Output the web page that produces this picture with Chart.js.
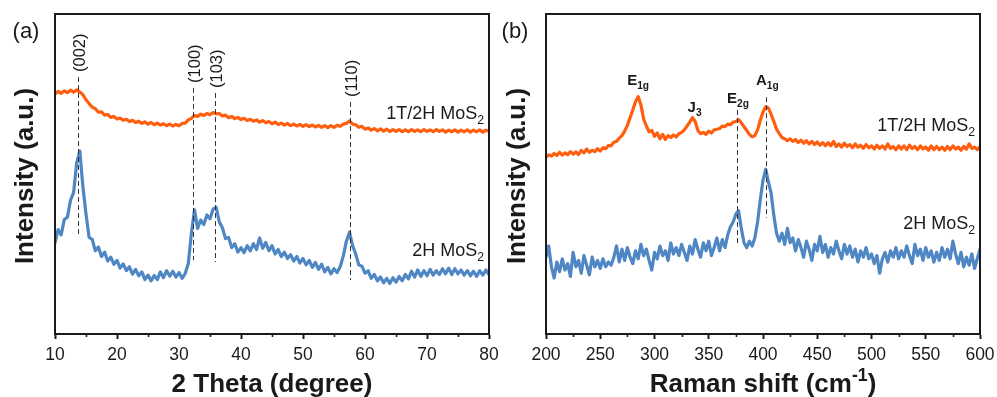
<!DOCTYPE html>
<html>
<head>
<meta charset="utf-8">
<script src="https://cdn.jsdelivr.net/npm/chart.js@4.4.1/dist/chart.umd.min.js"></script>
<style>
  html, body { margin: 0; padding: 0; background: #ffffff; }
  #wrap { position: relative; width: 997px; height: 397px; }
  canvas { position: absolute; left: 0; top: 0; }
</style>
</head>
<body>
<div id="wrap">
  <canvas id="xrd" width="997" height="397"></canvas>
  <canvas id="raman" width="997" height="397"></canvas>
</div>
<script>
// ---- XRD patterns, 2θ = 10..80°, sampled every 0.5° ----
const xrdStart = 10, xrdStep = 0.5;
const xrd2H = [
  28.5, 32.6, 31.0, 35.8, 36.5, 41.8, 44.2, 53.5, 57.2, 46.0,
  37.5, 30.2, 29.6, 26.0, 27.2, 24.2, 25.6, 22.8, 24.0, 21.8,
  23.0, 20.6, 21.9, 19.8, 21.0, 18.7, 20.2, 18.2, 19.4, 17.0,
  18.4, 16.6, 18.3, 17.0, 19.4, 17.6, 19.8, 18.1, 19.6, 17.8,
  19.2, 17.4, 18.9, 22.0, 31.5, 38.8, 33.0, 35.6, 34.2, 37.2,
  36.0, 39.0, 39.6, 35.0, 33.2, 29.8, 30.2, 27.0, 28.2, 25.6,
  27.0, 25.4, 27.6, 26.0, 28.2, 26.4, 30.0, 26.8, 28.6, 26.0,
  27.6, 25.0, 26.4, 24.2, 25.6, 23.6, 24.8, 22.8, 24.2, 22.2,
  23.6, 21.6, 23.0, 20.8, 22.4, 20.2, 21.8, 19.4, 20.8, 18.8,
  20.4, 19.2, 21.0, 24.4, 29.0, 31.8, 27.6, 25.0, 21.6, 21.2,
  19.0, 19.8, 17.4, 18.6, 16.6, 17.8, 16.0, 17.4, 15.8, 17.6,
  16.2, 18.0, 16.6, 18.6, 17.2, 19.6, 17.8, 20.0, 18.0, 19.8,
  18.2, 20.2, 18.4, 19.8, 18.6, 20.4, 18.8, 20.6, 18.6, 20.4,
  18.8, 20.0, 18.4, 19.8, 18.2, 19.6, 18.0, 19.8, 18.4, 20.0,
  18.6
];
const xrd1T2H = [
  75.0, 75.8, 75.2, 76.0, 75.4, 76.2, 75.6, 76.3, 75.6, 74.8,
  73.2, 72.0, 70.9, 70.4, 69.3, 69.4, 68.4, 68.6, 67.7, 68.0,
  67.2, 67.5, 66.8, 67.1, 66.4, 66.8, 66.1, 66.5, 65.8, 66.3,
  65.6, 66.1, 65.4, 65.9, 65.3, 65.7, 65.1, 65.6, 65.0, 65.5,
  65.1, 65.8, 65.9, 66.9, 67.4, 68.3, 68.0, 68.7, 68.3, 68.9,
  68.5, 69.2, 68.8, 68.9, 68.1, 68.4, 67.6, 68.0, 67.3, 67.7,
  67.0, 67.4, 66.7, 67.1, 66.5, 66.9, 66.2, 66.7, 66.0, 66.4,
  65.7, 66.2, 65.5, 65.9, 65.3, 65.8, 65.1, 65.6, 65.0, 65.5,
  64.9, 65.4, 64.8, 65.3, 64.7, 65.2, 64.6, 65.1, 64.5, 65.1,
  64.6, 65.2, 64.9, 65.6, 65.8, 66.6, 65.6, 65.4, 64.6, 64.9,
  64.0, 64.4, 63.7, 64.2, 63.5, 64.1, 63.4, 64.0, 63.3, 63.9,
  63.3, 63.9, 63.2, 63.8, 63.2, 63.9, 63.3, 63.8, 63.2, 63.9,
  63.3, 63.8, 63.2, 63.9, 63.3, 63.8, 63.1, 63.7, 63.2, 63.8,
  63.1, 63.7, 63.2, 63.8, 63.1, 63.7, 63.2, 63.8, 63.1, 63.7,
  63.4
];
const xrdTicks = [10, 20, 30, 40, 50, 60, 70, 80];
const xrdPeaks = [13.7, 32.3, 35.8, 57.5];
const xrdPeakLabels = ['(002)', '(100)', '(103)', '(110)'];

// ---- Raman spectra, 200..600 cm-1, sampled every 2.5 cm-1 ----
const ramanStart = 200, ramanStep = 2.5;
const raman1T2H = [
  55.2, 56.0, 55.6, 56.4, 55.8, 56.8, 55.9, 56.6, 56.0, 57.0,
  56.2, 56.9, 56.1, 57.4, 56.6, 57.8, 56.8, 57.4, 57.0, 57.9,
  57.2, 58.2, 57.9, 58.9, 58.8, 59.9, 60.2, 61.2, 62.0, 63.4,
  65.2, 67.6, 70.0, 72.6, 74.2, 71.6, 67.2, 65.0, 63.2, 63.6,
  61.8, 62.8, 61.0, 62.4, 60.8, 62.0, 61.4, 62.2, 61.6, 62.6,
  63.0, 63.8, 65.0, 66.2, 67.6, 66.4, 63.6, 62.6, 63.0, 62.4,
  63.4, 62.8, 63.8, 64.0, 64.2, 65.0, 64.8, 65.6, 65.4, 66.2,
  66.4, 67.0, 66.0, 64.8, 63.6, 62.4, 61.6, 62.0, 63.8, 66.8,
  69.4, 71.0, 70.6, 68.6, 66.4, 64.0, 62.6, 61.4, 61.0, 60.4,
  61.0, 60.2, 60.8, 59.8, 60.6, 59.6, 60.4, 59.4, 60.2, 59.2,
  60.0, 59.0, 59.8, 58.8, 59.8, 58.8, 60.2, 58.6, 59.4, 58.4,
  59.6, 58.6, 59.2, 58.2, 59.4, 58.4, 59.0, 58.0, 59.2, 58.2,
  58.8, 57.8, 59.0, 58.0, 58.8, 57.8, 59.4, 58.0, 58.6, 57.6,
  58.8, 57.8, 58.8, 57.6, 59.0, 58.0, 58.6, 57.6, 58.8, 57.8,
  58.4, 57.4, 58.8, 57.6, 58.6, 57.6, 58.4, 57.4, 58.6, 57.6,
  58.8, 57.8, 58.4, 57.4, 58.6, 57.8, 59.4, 58.0, 58.4, 57.6,
  58.6
];
const raman2H = [
  24.0, 27.5, 21.0, 17.5, 22.5, 19.5, 23.5, 20.0, 22.0, 18.0,
  25.5, 21.0, 23.0, 19.0, 24.5, 21.5, 18.5, 24.0, 21.0, 23.0,
  20.5, 23.5, 21.0, 22.5, 21.5, 24.0, 27.5, 22.5, 26.5, 23.0,
  27.0, 24.0, 22.0, 26.0, 23.5, 28.0, 24.5, 26.5, 23.0, 20.0,
  25.5, 23.5, 27.5, 24.5, 26.0, 23.0, 28.5, 25.0, 27.0, 24.5,
  28.0, 25.5, 23.0, 27.5, 25.0, 29.5, 26.5, 24.0, 28.5, 26.0,
  29.0, 24.5, 27.0, 30.0, 26.0, 29.5, 27.0, 31.0, 33.5, 35.0,
  37.5, 38.5, 33.0, 28.5, 27.0, 29.0, 27.5, 30.0, 35.0, 42.0,
  48.0, 51.5, 47.5, 44.0, 37.0, 31.5, 29.0, 31.5, 28.0, 33.0,
  28.5, 30.0, 26.0, 29.5, 27.0, 24.0, 29.0, 26.5, 23.0, 28.0,
  26.0, 30.5, 25.5, 28.0, 24.0, 27.0, 25.0, 29.0, 26.0, 23.5,
  28.0, 25.0, 27.5, 24.0, 26.5, 22.5, 26.0, 24.0, 27.0, 23.5,
  25.0, 22.0, 24.5, 19.0, 23.5, 25.5, 22.5, 26.0, 24.0, 27.0,
  23.5, 26.0, 24.0, 27.5, 24.5, 22.0, 28.0, 24.5, 26.5, 23.0,
  27.0, 24.0, 26.0, 22.5, 25.5, 23.0, 27.0, 24.0, 26.5, 23.5,
  29.0, 25.0, 22.0, 25.5, 21.0, 24.0, 21.5, 25.0, 20.5, 23.5,
  26.5
];
const ramanTicks = [200, 250, 300, 350, 400, 450, 500, 550, 600];
const ramanModes = [284, 336, 376, 403];
const ramanModeLabels = [['E', '1g'], ['J', '3'], ['E', '2g'], ['A', '1g']];

const sampleNames = [['1T/2H MoS', '2'], ['2H MoS', '2']];

// ---- styling ----
const FONT = '"Liberation Sans", Arial, Helvetica, sans-serif';
const INK = '#1a1a1a';
const ORANGE = '#ff5e0e';
const BLUE = '#4f86c4';

function pairs(start, step, ys) {
  return ys.map((y, i) => ({ x: start + i * step, y: y }));
}

// Draw a run of text segments: [text, 'sub'|'sup'|''].
function drawRuns(ctx, runs, x, y, align, size, weight) {
  const parts = runs.map(([t, mode]) => {
    const s = mode ? size * 0.68 : size;
    ctx.font = `${weight} ${s}px ${FONT}`;
    return { t, mode, s, w: ctx.measureText(t).width };
  });
  const total = parts.reduce((a, p) => a + p.w, 0);
  let cx = align === 'right' ? x - total : align === 'center' ? x - total / 2 : x;
  ctx.textAlign = 'left';
  ctx.textBaseline = 'alphabetic';
  for (const p of parts) {
    ctx.font = `${weight} ${p.s}px ${FONT}`;
    let dy = 0;
    if (p.mode === 'sub') dy = size * 0.26;
    if (p.mode === 'sup') dy = -size * 0.42;
    ctx.fillText(p.t, cx, y + dy);
    cx += p.w;
  }
}

function frameAndTicks(chart, minorStep, majorStep) {
  const { ctx, chartArea: a } = chart;
  const xs = chart.scales.x;
  ctx.save();
  ctx.strokeStyle = INK;
  ctx.lineWidth = 2;
  ctx.strokeRect(a.left, a.top, a.right - a.left, a.bottom - a.top);
  ctx.lineWidth = 1.6;
  for (let v = xs.min; v <= xs.max + 1e-9; v += minorStep) {
    if (Math.abs(v / majorStep - Math.round(v / majorStep)) < 1e-6) continue;
    const px = Math.round(xs.getPixelForValue(v)) + 0.5;
    ctx.beginPath();
    ctx.moveTo(px, a.bottom);
    ctx.lineTo(px, a.bottom + 3);
    ctx.stroke();
  }
  ctx.restore();
}

function dashedMarker(chart, xv, yTop, yBot) {
  const { ctx } = chart;
  const px = Math.round(chart.scales.x.getPixelForValue(xv)) + 0.5;
  ctx.save();
  ctx.strokeStyle = '#333333';
  ctx.lineWidth = 1;
  ctx.setLineDash([5, 3]);
  ctx.beginPath();
  ctx.moveTo(px, chart.scales.y.getPixelForValue(yTop));
  ctx.lineTo(px, chart.scales.y.getPixelForValue(yBot));
  ctx.stroke();
  ctx.restore();
  return px;
}

function rotatedTitle(ctx, text, cx, cy, size) {
  ctx.save();
  ctx.translate(cx, cy);
  ctx.rotate(-Math.PI / 2);
  ctx.fillStyle = INK;
  ctx.font = `bold ${size}px ${FONT}`;
  ctx.textAlign = 'center';
  ctx.textBaseline = 'middle';
  ctx.fillText(text, 0, 0);
  ctx.restore();
}

function baseOptions(xmin, xmax, step, padLeft, padRight) {
  return {
    responsive: false,
    animation: false,
    devicePixelRatio: 1,
    layout: { padding: { left: padLeft, right: padRight, top: 14, bottom: 0 } },
    plugins: { legend: { display: false }, tooltip: { enabled: false } },
    elements: {
      point: { radius: 0 },
      line: { tension: 0, borderWidth: 3.2, borderJoinStyle: 'round', borderCapStyle: 'round' }
    },
    scales: {
      x: {
        type: 'linear', min: xmin, max: xmax,
        ticks: {
          stepSize: step, autoSkip: false, maxRotation: 0, padding: 6,
          color: INK, font: { family: FONT, size: 17.5 }
        },
        grid: { display: true, drawOnChartArea: false, drawTicks: true, tickLength: 5, tickWidth: 2, tickColor: INK },
        border: { display: true, width: 2, color: INK },
        afterFit(scale) { scale.height = 63; scale.paddingLeft = 0; scale.paddingRight = 0; }
      },
      y: { display: false, min: 0, max: 100 }
    }
  };
}

// ---- panel (a): XRD ----
const xrdOverlay = {
  id: 'xrdOverlay',
  afterDraw(chart) {
    const { ctx, chartArea: a } = chart;
    frameAndTicks(chart, 5, 10);
    const tops = [80.3, 76.9, 75.3, 72.5];
    const bots = [30.9, 23.1, 22.5, 16.9];
    xrdPeaks.forEach((p, i) => {
      const px = dashedMarker(chart, p, tops[i], bots[i]);
      const topPx = chart.scales.y.getPixelForValue(tops[i]);
      ctx.save();
      ctx.translate(px + 2, topPx - 5);
      ctx.rotate(-Math.PI / 2);
      ctx.fillStyle = INK;
      ctx.font = `16.5px ${FONT}`;
      ctx.textAlign = 'left';
      ctx.textBaseline = 'middle';
      ctx.fillText(xrdPeakLabels[i], 0, 0);
      ctx.restore();
    });
    ctx.save();
    ctx.fillStyle = INK;
    drawRuns(ctx, [[sampleNames[0][0], ''], [sampleNames[0][1], 'sub']], 484, 119, 'right', 18, 'normal');
    drawRuns(ctx, [[sampleNames[1][0], ''], [sampleNames[1][1], 'sub']], 484, 256, 'right', 18, 'normal');
    drawRuns(ctx, [['(a)', '']], 26, 38, 'center', 22, 'normal');
    drawRuns(ctx, [['2 Theta (degree)', '']], (a.left + a.right) / 2, 392, 'center', 26, 'bold');
    ctx.restore();
    rotatedTitle(ctx, 'Intensity (a.u.)', 26, 176, 26);
  }
};

new Chart(document.getElementById('xrd'), {
  type: 'line',
  data: {
    datasets: [
      { data: pairs(xrdStart, xrdStep, xrd1T2H), borderColor: ORANGE },
      { data: pairs(xrdStart, xrdStep, xrd2H), borderColor: BLUE }
    ]
  },
  options: baseOptions(10, 80, 10, 55, 508),
  plugins: [{
    id: 'bg',
    beforeDraw(chart) {
      const c = chart.ctx;
      c.save(); c.fillStyle = '#ffffff'; c.fillRect(0, 0, chart.width, chart.height); c.restore();
    }
  }, xrdOverlay]
});

// ---- panel (b): Raman ----
const ramanOverlay = {
  id: 'ramanOverlay',
  afterDraw(chart) {
    const { ctx, chartArea: a } = chart;
    frameAndTicks(chart, 25, 50);
    // dashed guides for E2g and A1g
    dashedMarker(chart, ramanModes[2], 70.0, 28.4);
    dashedMarker(chart, ramanModes[3], 74.0, 36.3);
    const labelY = [80, 107, 98, 80];
    ctx.save();
    ctx.fillStyle = INK;
    ramanModes.forEach((m, i) => {
      const px = chart.scales.x.getPixelForValue(m);
      const [main, sub] = ramanModeLabels[i];
      drawRuns(ctx, [[main, ''], [sub, 'sub']], px + 1, labelY[i] + 5, 'center', 15, 'bold');
    });
    drawRuns(ctx, [[sampleNames[0][0], ''], [sampleNames[0][1], 'sub']], 975, 131, 'right', 18, 'normal');
    drawRuns(ctx, [[sampleNames[1][0], ''], [sampleNames[1][1], 'sub']], 975, 229, 'right', 18, 'normal');
    drawRuns(ctx, [['(b)', '']], 515, 38, 'center', 22, 'normal');
    drawRuns(ctx, [['Raman shift (cm', ''], ['-1', 'sup'], [')', '']], (a.left + a.right) / 2, 392, 'center', 26, 'bold');
    ctx.restore();
    rotatedTitle(ctx, 'Intensity (a.u.)', 518, 176, 26);
  }
};

new Chart(document.getElementById('raman'), {
  type: 'line',
  data: {
    datasets: [
      { data: pairs(ramanStart, ramanStep, raman1T2H), borderColor: ORANGE },
      { data: pairs(ramanStart, ramanStep, raman2H), borderColor: BLUE }
    ]
  },
  options: baseOptions(200, 600, 50, 546, 17),
  plugins: [ramanOverlay]
});
</script>
</body>
</html>
